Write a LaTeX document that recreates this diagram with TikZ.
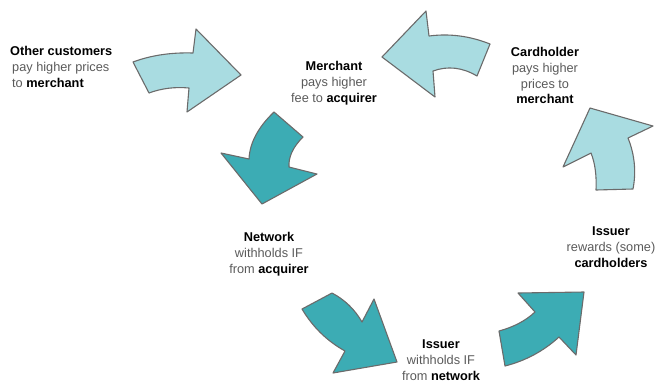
\documentclass[tikz,border=0pt]{standalone}
\usepackage{fontspec}
\setmainfont{Liberation Sans}
\definecolor{lightarrow}{HTML}{A9DCE1}
\definecolor{darkarrow}{HTML}{3CACB4}
\definecolor{edgegray}{HTML}{6B6B6B}
\definecolor{txtgray}{HTML}{5A5A5A}
\begin{document}
\begin{tikzpicture}[x=1bp,y=-1bp,
  lightarr/.style={fill=lightarrow,draw=edgegray,line width=1.1bp,line join=round},
  darkarr/.style={fill=darkarrow,draw=edgegray,line width=1.1bp,line join=round},
  lbl/.style={inner sep=0pt,align=center,text=txtgray,font=\fontsize{12.8}{16}\selectfont},
]
\useasboundingbox (0,0) rectangle (655,383);
% arrows
\path[lightarr] (133,62) .. controls (151,55.3) and (171,52.3) .. (193,53) -- (196,29) -- (241,75) -- (187,112) -- (189,88) .. controls (175,86.7) and (161.7,88.3) .. (149,93) -- cycle;
\path[darkarr] (274,112) -- (303,137) .. controls (293,147) and (288.3,157) .. (289,167) -- (317,174) -- (262,204) -- (221,153) -- (249,159) .. controls (249.7,143) and (258,127.3) .. (274,112) -- cycle;
\path[darkarr] (302,309) -- (332,293) .. controls (344.7,299.7) and (354.7,309.3) .. (362,322) -- (374,299) -- (397,362) -- (333,373) -- (345,351) .. controls (327,341) and (312.7,327) .. (302,309) -- cycle;
\path[darkarr] (505,366) -- (499,331) .. controls (513.7,327) and (525.7,320.7) .. (535,312) -- (518,293) -- (584,292) -- (576,355) -- (559,337) .. controls (543.7,351) and (525.7,360.7) .. (505,366) -- cycle;
\path[lightarr] (596,190) -- (633,189) .. controls (636.3,171.7) and (634.7,154.7) .. (628,138) -- (653,126) -- (590,108) -- (563,167) -- (591,153) .. controls (595,163) and (596.7,175.3) .. (596,190) -- cycle;
\path[lightarr] (490,44) .. controls (470,36) and (449.7,33.3) .. (429,36) -- (426,11) -- (382,57) -- (435,97) -- (433,71) .. controls (447.7,65.7) and (462.3,67.3) .. (477,76) -- cycle;
% labels
\node[lbl,align=left,anchor=west] (other) at (10,67) {\textcolor{black}{\textbf{Other customers}}\\\hspace{2bp}pay higher prices\\\hspace{2bp}to \textcolor{black}{\textbf{merchant}}};
\node[lbl] (merchant) at (334,83) {\textcolor{black}{\textbf{Merchant}}\\pays higher\\fee to \textcolor{black}{\textbf{acquirer}}};
\node[lbl] (cardholder) at (545,75.5) {\textcolor{black}{\textbf{Cardholder}}\\pays higher\\prices to\\\textcolor{black}{\textbf{merchant}}};
\node[lbl] (network) at (269,254) {\textcolor{black}{\textbf{Network}}\\withholds IF\\from \textcolor{black}{\textbf{acquirer}}};
\node[lbl] (issuerw) at (441,360) {\textcolor{black}{\textbf{Issuer}}\\withholds IF\\from \textcolor{black}{\textbf{network}}};
\node[lbl] (issuerr) at (611,247) {\textcolor{black}{\textbf{Issuer}}\\rewards (some)\\\textcolor{black}{\textbf{cardholders}}};
\end{tikzpicture}
\end{document}
